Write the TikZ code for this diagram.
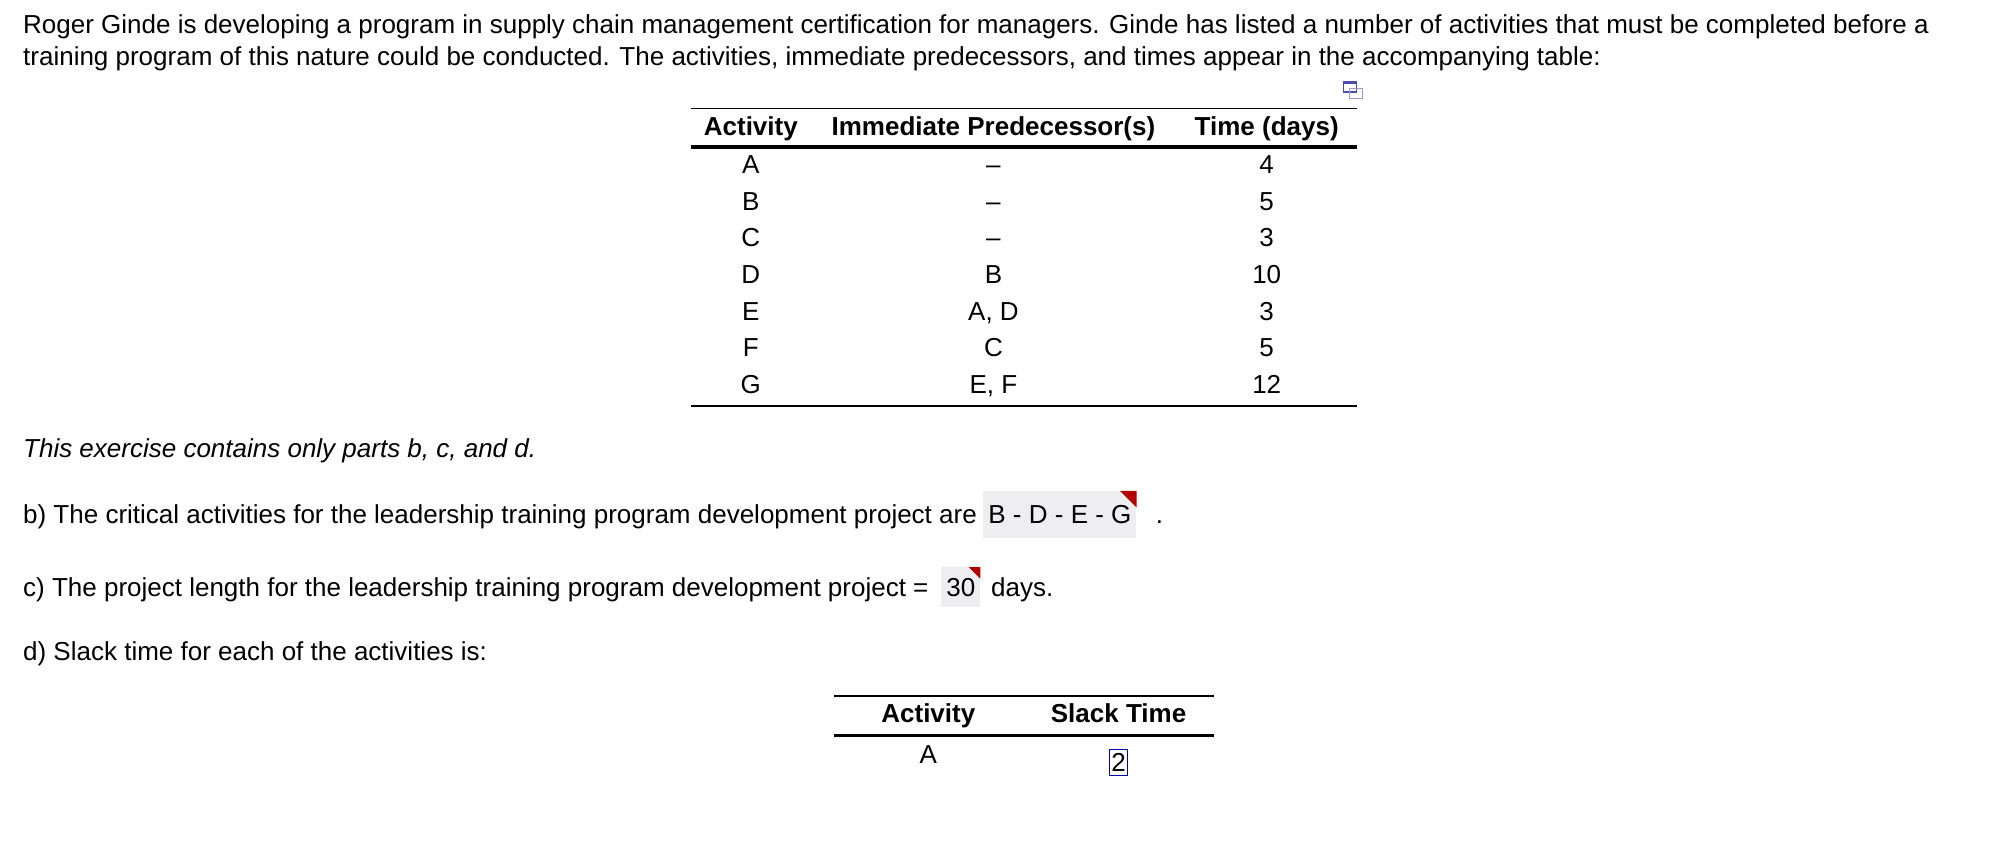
\documentclass[tikz,border=0pt]{standalone}
\usepackage{fontspec}
\setmainfont{Liberation Sans}
\begin{document}
\begin{tikzpicture}[x=1.277pt,y=-1.277pt,
  txt/.style={inner sep=0pt,font=\fontsize{26}{31}\selectfont},
  lt/.style={txt,anchor=base west},
  hd/.style={txt,font=\fontsize{26}{31}\selectfont\bfseries,anchor=base},
  cl/.style={txt,anchor=base},
  ansbox/.style={fill=blue!8!gray!12,draw=none,inner xsep=5pt,inner ysep=0pt,minimum height=47pt,font=\fontsize{26}{31}\selectfont,anchor=base west},
  thin/.style={line width=1.3pt},
  thick2/.style={line width=3.5pt}]
\useasboundingbox (0,0) rectangle (1560,661);
\fill[white] (0,0) rectangle (1560,661);
\node[lt] (l1) at (18,26) {Roger Ginde is developing a program in supply chain management certification for managers. Ginde has listed a number of activities that must be completed before a};
\node[lt] (l2) at (18,51) {training program of this nature could be conducted. The activities, immediate predecessors, and times appear in the accompanying table:};
% icon
\draw[blue!40!gray,line width=1.2pt] (1052,64) rectangle (1062,72);
\draw[blue!30!gray!60,line width=1pt] (1057,69) rectangle (1067,77);
\fill[blue!40!gray] (1052,64) rectangle (1062,66);
% table 1
\coordinate (t1l) at (541,85); \coordinate (t1r) at (1063,85);
\draw[thin] (t1l) -- (t1r);
\node[hd] (h1) at (588,106) {Activity};
\node[hd] (h2) at (778,106) {Immediate Predecessor(s)};
\node[hd] (h3) at (992,106) {Time (days)};
\draw[thick2] (541,115) -- (1063,115);
\foreach \a/\p/\t [count=\i] in {A/--/4,B/--/5,C/--/3,D/B/10,E/{A, D}/3,F/C/5,G/{E, F}/12}{
  \node[cl] (a\i) at (588,{136+(\i-1)*28.7}) {\a};
  \node[cl] (p\i) at (778,{136+(\i-1)*28.7}) {\p};
  \node[cl] (n\i) at (992,{136+(\i-1)*28.7}) {\t};
}
\draw[thin] (541,318) -- (1063,318);
\node[lt,font=\fontsize{26}{31}\selectfont\itshape] (ex) at (18,358) {This exercise contains only parts b, c, and d.};
\node[lt] (b) at (18,410) {b) The critical activities for the leadership training program development project are};
\node[ansbox] (bb) at (770,410) {B - D - E - G\hspace{3pt}};
\fill[red!70!black] (bb.north east) -- ++(-13,0) -- ++(13,13) -- cycle;
\node[lt] (bd) at (905,410) {.};
\node[lt] (c) at (18,467) {c) The project length for the leadership training program development project =};
\node[ansbox,minimum height=40pt] (cb) at (737,467) {30};
\fill[red!70!black] (cb.north east) -- ++(-9,0) -- ++(9,9) -- cycle;
\node[lt] (cd) at (776,467) {days.};
\node[lt] (d) at (18,517) {d) Slack time for each of the activities is:};
% table 2
\draw[thin] (653,545) -- (951,545);
\node[hd] (s1) at (727,566) {Activity};
\node[hd] (s2) at (876,566) {Slack Time};
\draw[thick2] (653,576) -- (951,576);
\node[cl] (sa) at (727,598) {A};
\node[txt,draw=blue!70!black,line width=1.2pt,inner xsep=2pt,inner ysep=4pt,anchor=base] (sv) at (876,604) {2};
\end{tikzpicture}
\end{document}
